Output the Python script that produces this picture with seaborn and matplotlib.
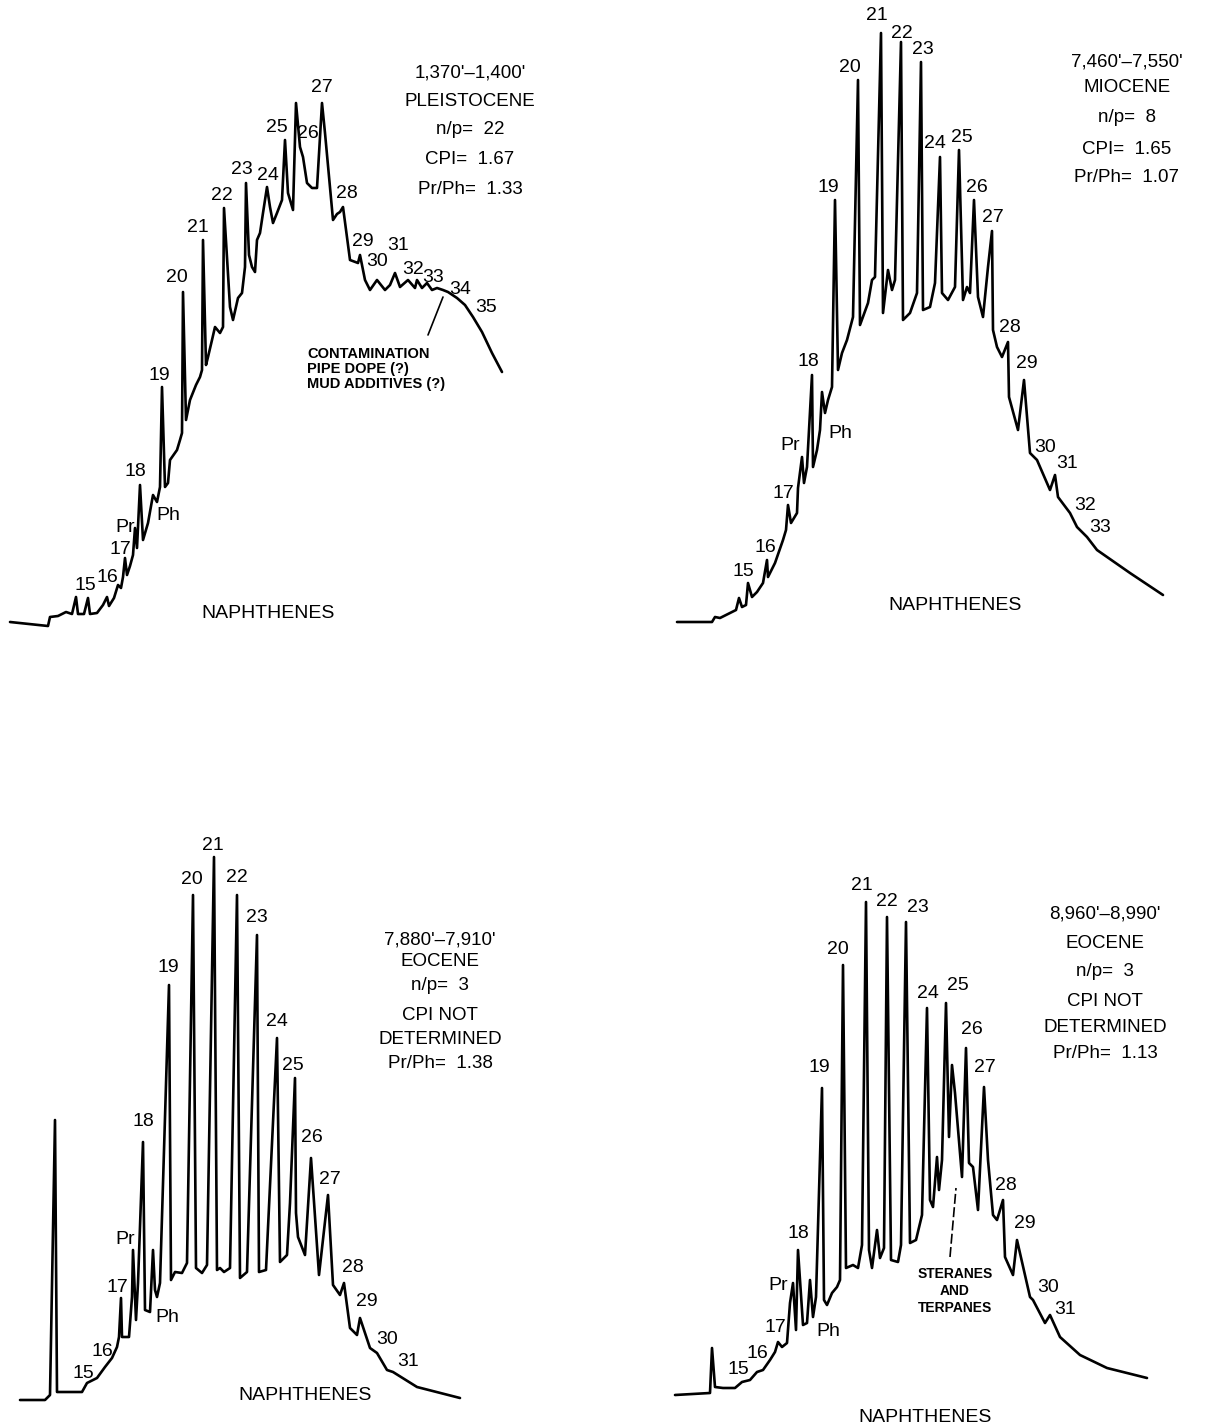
import pandas as pd
import seaborn as sns
import matplotlib.pyplot as plt

# retention (x) and detector response (height)
p1_time = [10, 48, 50, 58, 66, 72, 76, 78, 84, 88, 90, 97, 103, 107, 109, 114, 118, 121, 123, 125,
           127, 130, 133, 135, 137, 140, 143, 148, 153, 157, 160, 162, 165, 168, 170, 177, 180, 182, 183, 186,
           190, 196, 200, 202, 203, 206, 208, 212, 215, 220, 223, 224, 230, 233, 238, 242, 245, 246, 249, 252,
           255, 257, 260, 263, 267, 270, 273, 277, 282, 285, 288, 293, 296, 300, 303, 307, 312, 317, 322, 325,
           333, 337, 340, 343, 350, 358, 360, 365, 370, 377, 385, 390, 395, 400, 408, 415, 417, 422, 427, 432,
           437, 443, 448, 457, 465, 473, 482, 492, 502]
p1_resp = [91, 87, 96, 97, 101, 99, 116, 99, 99, 115, 99, 100, 108, 116, 107, 115, 128, 125, 136, 155,
           138, 147, 158, 185, 165, 228, 173, 190, 218, 211, 226, 326, 226, 230, 253, 263, 273, 280, 421, 293,
           313, 328, 336, 343, 473, 348, 356, 373, 386, 380, 386, 505, 406, 393, 415, 420, 446, 530, 458, 446,
           441, 473, 480, 500, 526, 506, 490, 500, 513, 573, 520, 503, 610, 566, 556, 530, 525, 525, 610, 580,
           493, 499, 501, 506, 453, 450, 458, 433, 423, 433, 423, 428, 440, 426, 433, 425, 433, 425, 430, 423,
           425, 423, 421, 415, 408, 396, 381, 360, 341]

p2_time = [677, 712, 715, 720, 730, 736, 739, 742, 746, 748, 752, 757, 763, 767, 768, 775, 783, 786, 788, 791,
           797, 798, 802, 804, 807, 812, 813, 817, 820, 822, 825, 828, 832, 835, 838, 842, 847, 853, 858, 860,
           868, 872, 875, 881, 883, 888, 892, 895, 901, 903, 910, 917, 921, 923, 930, 935, 940, 942, 948, 955,
           959, 963, 967, 970, 974, 978, 983, 988, 992, 993, 997, 1002, 1008, 1009, 1018, 1024, 1030, 1037, 1050, 1055,
           1058, 1070, 1077, 1087, 1097, 1130, 1163]
p2_resp = [91, 91, 96, 95, 100, 103, 115, 106, 108, 130, 116, 121, 130, 153, 136, 150, 173, 183, 208, 190,
           200, 225, 256, 230, 246, 338, 246, 263, 283, 321, 300, 313, 326, 513, 343, 360, 373, 396, 633, 388,
           410, 433, 436, 680, 400, 443, 423, 433, 671, 393, 400, 420, 651, 403, 406, 430, 556, 420, 413, 426,
           563, 413, 426, 420, 513, 416, 396, 446, 482, 383, 366, 356, 371, 316, 283, 333, 260, 253, 223, 238,
           216, 200, 186, 176, 163, 140, 118]

p3_time = [20, 45, 50, 55, 57, 82, 87, 97, 105, 112, 117, 119, 121, 122, 129, 132, 133, 136, 138, 143,
           145, 150, 153, 155, 157, 160, 169, 171, 175, 182, 187, 193, 196, 202, 207, 214, 217, 220, 224, 230,
           237, 240, 247, 257, 259, 266, 277, 280, 287, 290, 295, 296, 298, 305, 311, 319, 328, 333, 340, 344,
           350, 357, 360, 370, 377, 387, 393, 417, 460]
p3_resp = [26, 26, 31, 306, 34, 34, 43, 48, 59, 68, 79, 89, 128, 89, 89, 129, 176, 106, 143, 284,
           116, 114, 176, 136, 129, 143, 441, 146, 154, 153, 163, 531, 158, 153, 161, 569, 156, 158, 154, 158,
           531, 148, 154, 491, 154, 156, 388, 164, 171, 223, 348, 213, 189, 171, 268, 151, 231, 141, 131, 143,
           98, 91, 108, 78, 73, 56, 54, 39, 28]

p4_time = [675, 710, 712, 715, 723, 735, 742, 750, 757, 763, 770, 775, 778, 782, 787, 790, 793, 796, 798, 803,
           807, 810, 813, 816, 822, 824, 827, 832, 837, 840, 843, 846, 853, 858, 862, 866, 869, 872, 877, 880,
           884, 887, 891, 898, 901, 906, 910, 916, 922, 927, 930, 933, 937, 939, 942, 946, 949, 952, 955, 962,
           966, 969, 973, 978, 984, 988, 993, 997, 1003, 1005, 1013, 1017, 1030, 1033, 1045, 1050, 1060, 1080, 1107, 1147]
p4_resp = [31, 33, 78, 39, 38, 38, 44, 46, 54, 56, 66, 74, 84, 79, 83, 123, 143, 96, 176, 101,
           103, 146, 109, 129, 338, 126, 121, 133, 139, 146, 461, 158, 161, 158, 181, 524, 176, 158, 196, 168,
           178, 509, 166, 164, 181, 504, 183, 186, 211, 418, 226, 219, 269, 236, 266, 423, 289, 361, 333, 249,
           378, 263, 259, 216, 339, 266, 211, 206, 226, 169, 151, 186, 129, 126, 103, 111, 89, 71, 58, 48]

# peak labels: name, time, height of label
p1_peaks = ['15', '16', '17', 'Pr', '18', 'Ph', '19', '20', '21', '22', '23', '24', '25', '26', '27',
            '28', '29', '30', '31', '32', '33', '34', '35']
p1_peak_t = [85, 107, 120, 125, 135, 168, 159, 177, 198, 222, 242, 268, 277, 308, 322,
             347, 363, 377, 398, 413, 433, 460, 486]
p1_peak_h = [128, 136, 163, 185, 241, 198, 338, 436, 486, 518, 543, 538, 586, 580, 625,
             520, 471, 451, 468, 443, 436, 423, 406]

p2_peaks = ['15', '16', '17', 'Pr', '18', 'Ph', '19', '20', '21', '22', '23', '24', '25', '26', '27',
            '28', '29', '30', '31', '32', '33']
p2_peak_t = [743, 765, 783, 790, 808, 840, 828, 850, 877, 902, 923, 935, 962, 977, 993,
             1010, 1027, 1045, 1067, 1085, 1100]
p2_peak_h = [141, 166, 220, 268, 351, 280, 526, 645, 698, 680, 663, 570, 575, 525, 495,
             385, 350, 266, 250, 208, 186]

p3_peaks = ['15', '16', '17', 'Pr', '18', 'Ph', '19', '20', '21', '22', '23', '24', '25', '26', '27',
            '28', '29', '30', '31']
p3_peak_t = [83, 102, 117, 125, 143, 167, 168, 192, 213, 237, 257, 277, 293, 312, 330,
             353, 367, 387, 408]
p3_peak_h = [53, 74, 138, 186, 304, 109, 458, 546, 581, 548, 508, 404, 361, 288, 246,
             158, 124, 86, 64]

p4_peaks = ['15', '16', '17', 'Pr', '18', 'Ph', '19', '20', '21', '22', '23', '24', '25', '26', '27',
            '28', '29', '30', '31']
p4_peak_t = [738, 757, 775, 778, 798, 828, 819, 838, 862, 887, 918, 928, 958, 972, 985,
             1006, 1025, 1048, 1065]
p4_peak_h = [56, 73, 99, 141, 193, 94, 358, 476, 541, 524, 519, 433, 441, 396, 358,
             241, 203, 139, 116]

p1_info = ["1,370'\u20131,400'", 'PLEISTOCENE', 'n/p=  22', 'CPI=  1.67', 'Pr/Ph=  1.33']
p2_info = ["7,460'\u20137,550'", 'MIOCENE', 'n/p=  8', 'CPI=  1.65', 'Pr/Ph=  1.07']
p3_info = ["7,880'\u20137,910'", 'EOCENE', 'n/p=  3', 'CPI NOT', 'DETERMINED', 'Pr/Ph=  1.38']
p4_info = ["8,960'\u20138,990'", 'EOCENE', 'n/p=  3', 'CPI NOT', 'DETERMINED', 'Pr/Ph=  1.13']

sns.set_style('white')
plt.rcParams['font.family'] = ['Liberation Sans', 'DejaVu Sans']
plt.rcParams['text.color'] = 'black'

fig = plt.figure(figsize=(12.17, 14.26), dpi=100)

panels = [
    dict(rect=[0, 0.5, 0.5, 0.5], xlim=(0, 608.5), t=p1_time, r=p1_resp,
         names=p1_peaks, pt=p1_peak_t, ph=p1_peak_h, info=p1_info, info_x=470,
         info_y=[640, 611, 583, 553, 524], naph=(268, 100)),
    dict(rect=[0.5, 0.5, 0.5, 0.5], xlim=(608.5, 1217), t=p2_time, r=p2_resp,
         names=p2_peaks, pt=p2_peak_t, ph=p2_peak_h, info=p2_info, info_x=1127,
         info_y=[651, 626, 595, 564, 535], naph=(955, 108)),
    dict(rect=[0, 0, 0.5, 0.5], xlim=(0, 608.5), t=p3_time, r=p3_resp,
         names=p3_peaks, pt=p3_peak_t, ph=p3_peak_h, info=p3_info, info_x=440,
         info_y=[486, 464, 440, 410, 386, 362], naph=(305, 30)),
    dict(rect=[0.5, 0, 0.5, 0.5], xlim=(608.5, 1217), t=p4_time, r=p4_resp,
         names=p4_peaks, pt=p4_peak_t, ph=p4_peak_h, info=p4_info, info_x=1105,
         info_y=[512, 483, 455, 425, 399, 373], naph=(925, 9)),
]

axes = []
for p in panels:
    ax = fig.add_axes(p['rect'])
    df = pd.DataFrame({'time': p['t'], 'response': p['r']})
    sns.lineplot(data=df, x='time', y='response', sort=False, estimator=None,
                 color='black', linewidth=1.9, ax=ax)
    for name, x, y in zip(p['names'], p['pt'], p['ph']):
        ax.text(x, y, name, ha='center', va='center', fontsize=14)
    for line, y in zip(p['info'], p['info_y']):
        ax.text(p['info_x'], y, line, ha='center', va='center', fontsize=13.5)
    ax.text(p['naph'][0], p['naph'][1], 'NAPHTHENES', ha='center', va='center', fontsize=14)
    ax.set_xlim(*p['xlim'])
    ax.set_ylim(0, 713)
    ax.axis('off')
    axes.append(ax)

# contamination note, top-left
ax = axes[0]
ax.plot([428, 443], [378, 416], color='black', linewidth=1.2)
for line, y in zip(['CONTAMINATION', 'PIPE DOPE (?)', 'MUD ADDITIVES (?)'], [359, 344, 329]):
    ax.text(307, y, line, ha='left', va='center', fontsize=10.5, fontweight='bold')

# steranes note, bottom-right
ax = axes[3]
ax.plot([950, 956], [169, 238], color='black', linewidth=1.2, linestyle=(0, (6, 2)))
for line, y in zip(['STERANES', 'AND', 'TERPANES'], [152, 135, 118]):
    ax.text(955, y, line, ha='center', va='center', fontsize=10, fontweight='bold')

plt.savefig('out.png', dpi=100)
